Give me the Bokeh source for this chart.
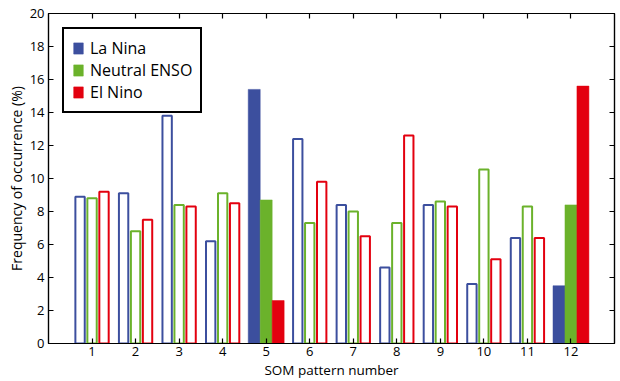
from bokeh.plotting import figure
from bokeh.models import LinearAxis, FixedTicker, Legend, LegendItem
from bokeh.embed import file_html
from bokeh.resources import INLINE

patterns = list(range(1, 13))
tick_labels = [str(i) for i in patterns]
la_nina = [8.9, 9.1, 13.8, 6.2, 15.4, 12.4, 8.4, 4.6, 8.4, 3.6, 6.4, 3.5]
neutral = [8.8, 6.8, 8.4, 9.1, 8.7, 7.3, 8.0, 7.3, 8.6, 10.55, 8.3, 8.4]
el_nino = [9.2, 7.5, 8.3, 8.5, 2.6, 9.8, 6.5, 12.6, 8.3, 5.1, 6.4, 15.6]
filled_patterns = [5, 12]
series_names = ["La Nina", "Neutral ENSO", "El Nino"]
series_values = [la_nina, neutral, el_nino]

colors = ["#3c4f9e", "#6bb22b", "#e3000f"]
offsets = [-0.275, 0.0, 0.275]
FONT = "Open Sans"

p = figure(width=620, height=381, x_range=(0, 13), y_range=(0, 20),
           output_backend="svg", toolbar_location=None,
           min_border_left=48, min_border_right=6, min_border_top=13,
           min_border_bottom=36)
p.grid.visible = False
p.outline_line_color = "black"
p.outline_line_width = 1.2
p.background_fill_color = "white"
p.border_fill_color = "white"

legend_items = []
for name, vals, col, off in zip(series_names, series_values, colors, offsets):
    fx, fy, ox, oy = [], [], [], []
    for g, v in zip(patterns, vals):
        if g in filled_patterns:
            fx.append(g + off); fy.append(v)
        else:
            ox.append(g + off); oy.append(v)
    p.vbar(x=ox, top=oy, bottom=0, width=0.215, fill_color="white",
           line_color=col, line_width=2)
    r = p.vbar(x=fx, top=fy, bottom=0, width=0.275, fill_color=col,
               line_color=col, line_width=0.5)
    legend_items.append(LegendItem(label=name, renderers=[r]))

def style_axis(ax, labels=True, label_size="13.5px"):
    ax.axis_line_color = "black"
    ax.axis_line_width = 1.2
    ax.major_tick_in = 5
    ax.major_tick_out = 0
    ax.minor_tick_line_color = None
    ax.major_tick_line_color = "black"
    ax.major_tick_line_width = 1.2
    ax.major_label_text_font = FONT
    if labels:
        ax.major_label_text_font_size = "13px"
        ax.major_label_text_color = "black"
    else:
        ax.major_label_text_font_size = "1px"
        ax.major_label_text_color = None
    ax.axis_label_text_font = FONT
    ax.axis_label_text_font_size = label_size
    ax.axis_label_text_font_style = "normal"
    ax.axis_label_text_color = "black"

xt = FixedTicker(ticks=patterns)
yt = FixedTicker(ticks=list(range(0, 21, 2)))

p.xaxis.ticker = xt
p.xaxis.major_label_overrides = {i: s for i, s in zip(patterns, tick_labels)}
p.xaxis.axis_label = "SOM pattern number"
p.xaxis.major_label_standoff = 3
p.xaxis.axis_label_standoff = 2
style_axis(p.xaxis[0], label_size="13.5px")

p.yaxis.ticker = yt
p.yaxis.axis_label = "Frequency of occurrence (%)"
p.yaxis.major_label_standoff = 4
p.yaxis.axis_label_standoff = 1
style_axis(p.yaxis[0], label_size="14px")

top_ax = LinearAxis(ticker=xt, major_label_standoff=0, axis_label=None)
style_axis(top_ax, labels=False)
p.add_layout(top_ax, "above")
right_ax = LinearAxis(ticker=yt, major_label_standoff=0, axis_label=None)
style_axis(right_ax, labels=False)
p.add_layout(right_ax, "right")

legend = Legend(items=legend_items, location="top_left", margin=14,
                border_line_color="black", border_line_width=2,
                border_line_alpha=1,
                background_fill_color="white", background_fill_alpha=1,
                label_text_font=FONT, label_text_font_size="16px",
                label_text_color="black",
                glyph_width=12, glyph_height=14, label_height=14,
                label_standoff=6, spacing=0, padding=8)
p.add_layout(legend)

open("out.html", "w").write(file_html(p, INLINE))
